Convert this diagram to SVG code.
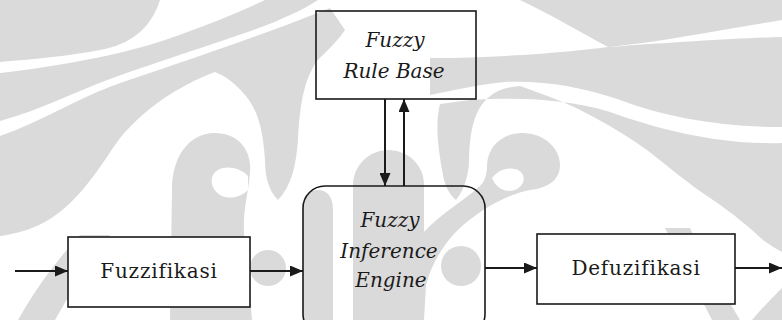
<svg xmlns="http://www.w3.org/2000/svg" width="782" height="320" viewBox="0 0 782 320">
<style>
.wm{fill:#dadada;stroke:none}
.wh{fill:#ffffff;stroke:none}
.box{fill:none;stroke:#1a1a1a;stroke-width:1.6}
.boxw{fill:#ffffff;stroke:#1a1a1a;stroke-width:1.6}
.lbl{font-family:"DejaVu Serif","Liberation Serif",serif;font-size:20px;fill:#1a1a1a;text-anchor:middle;letter-spacing:0.8px}
.it{font-family:"DejaVu Serif","Liberation Serif",serif;font-style:italic;font-size:20px;fill:#1a1a1a;text-anchor:middle}
.con{stroke:#1a1a1a;stroke-width:2;fill:none}
</style>
<defs>
<marker id="ah" markerUnits="userSpaceOnUse" markerWidth="13" markerHeight="11" refX="13" refY="5.5" orient="auto">
<path d="M0,0 L13,5.5 L0,11 Z" fill="#1a1a1a"/>
</marker>
</defs>
<rect width="782" height="320" fill="#ffffff"/>
<g id="watermark">
<path class="wm" d="M0,0 H160 C152,25 135,42 105,49 C70,56 35,59 0,62 Z"/>
<path class="wm" d="M0,73 C60,66 120,55 165,40 C205,26 240,12 265,0 H318 C300,12 270,25 230,38 C180,55 140,68 110,79 C75,92 40,110 0,121 Z"/>
<path class="wm" d="M0,136 C40,122 75,100 112,86 C170,66 250,40 330,8 L345,30 C335,45 322,55 316,62 C305,80 300,100 298,140 C296,165 292,185 278,200 C268,190 265,175 265,160 C263,130 258,110 245,95 C235,83 225,76 215,72 C180,85 140,110 115,145 C95,175 75,205 45,222 C30,230 15,234 0,236 Z"/>
<path class="wm" d="M18,320 C35,290 55,262 80,235 L110,235 C90,260 72,290 55,320 Z"/>
<path class="wm" d="M170,320 L172,190 C172,155 190,133 215,133 C238,133 252,150 250,172 C248,200 240,215 246,250 L252,320 Z"/>
<path class="wh" d="M248,176 C240,168 228,165 218,170 C208,176 210,190 222,196 C232,200 242,196 248,190 Z"/>
<circle class="wm" cx="268" cy="268" r="18"/>
<path class="wm" d="M303,320 V205 C303,195 310,190 318,190 C328,190 333,198 333,210 V320 Z"/>
<path class="wm" d="M353,320 V185 C353,165 370,150 388,150 C408,150 424,165 424,185 V320 Z"/>
<circle class="wm" cx="461" cy="266" r="20"/>
<path class="wm" d="M520,0 H782 V20 C720,30 660,42 608,47 C580,32 550,14 520,0 Z"/>
<path class="wm" d="M430,58 C500,58 570,52 608,47 C680,42 740,38 782,37 V127 C720,127 665,117 620,100 C580,86 540,80 505,82 C480,84 455,90 430,95 Z"/>
<path class="wm" d="M782,143 C720,145 660,130 610,112 C560,97 510,98 470,100 L440,104 C436,120 436,140 444,180 C447,190 451,196 456,200 C464,190 469,175 469,160 C470,130 474,110 489,97 C497,90 507,87 520,86 C545,95 565,102 580,110 C610,125 630,138 647,150 C670,168 690,185 713,200 C735,215 750,228 763,240 C770,245 776,249 782,252 Z"/>
<path class="wm" d="M665,228 L690,228 C705,260 722,290 740,320 L712,320 C697,290 680,258 665,228 Z"/>
<path class="wm" d="M752,320 C765,305 775,295 782,288 V320 Z"/>
<path class="wm" d="M424,232 C440,214 465,200 480,186 C486,180 487,172 487,165 C488,146 503,133 522,133 C544,133 560,148 560,165 C560,180 548,188 530,190 C505,195 480,210 460,228 C445,242 432,262 426,285 L424,320 Z"/>
<path class="wh" d="M492,178 C498,170 508,166 518,170 C527,175 525,186 515,190 C505,193 496,188 492,178 Z"/>
</g>
<g id="connectors">
<line class="con" x1="15" y1="271" x2="68" y2="271" marker-end="url(#ah)"/>
<line class="con" x1="250" y1="271" x2="303" y2="271" marker-end="url(#ah)"/>
<line class="con" x1="485" y1="268" x2="537" y2="268" marker-end="url(#ah)"/>
<line class="con" x1="735" y1="268" x2="782" y2="268" marker-end="url(#ah)"/>
<line class="con" x1="385" y1="99" x2="385" y2="186" marker-end="url(#ah)"/>
<line class="con" x1="404" y1="186" x2="404" y2="99" marker-end="url(#ah)"/>
</g>
<g id="rule-base">
<rect class="box" x="316" y="11" width="160" height="88"/>
<text class="it" x="395" y="47">Fuzzy</text>
<text class="it" x="394" y="78">Rule Base</text>
</g>
<g id="inference-engine">
<rect class="box" x="303" y="186" width="182" height="150" rx="22"/>
<text class="it" x="390" y="227">Fuzzy</text>
<text class="it" x="389" y="258">Inference</text>
<text class="it" x="391" y="287">Engine</text>
</g>
<g id="fuzzifikasi">
<rect class="boxw" x="68" y="237" width="182" height="70"/>
<text class="lbl" x="159" y="278">Fuzzifikasi</text>
</g>
<g id="defuzifikasi">
<rect class="boxw" x="537" y="234" width="198" height="70"/>
<text class="lbl" x="636" y="275">Defuzifikasi</text>
</g>
</svg>
